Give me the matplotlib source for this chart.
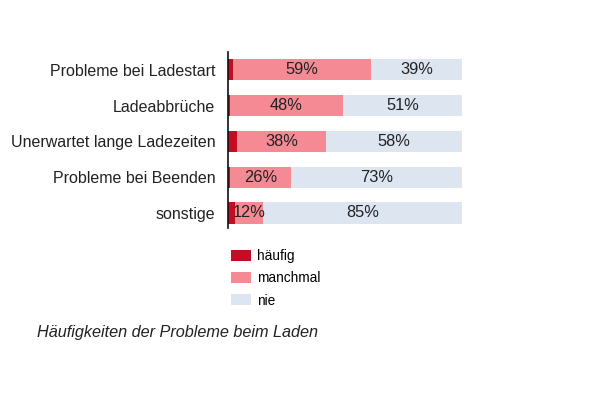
import matplotlib
matplotlib.use("Agg")
import matplotlib.pyplot as plt
from matplotlib.patches import Patch

categories = ["Probleme bei Ladestart", "Ladeabbrüche", "Unerwartet lange Ladezeiten",
              "Probleme bei Beenden", "sonstige"]
haeufig = [2, 1, 4, 1, 3]
manchmal = [59, 48, 38, 26, 12]
nie = [39, 51, 58, 73, 85]
series_names = ["häufig", "manchmal", "nie"]
caption = "Häufigkeiten der Probleme beim Laden"

colors = ["#c40d25", "#f58a95", "#dde5f1"]

plt.rcParams['font.family'] = ['Liberation Sans', 'DejaVu Sans']
fig = plt.figure(figsize=(6.0, 3.99), dpi=100)
ax = fig.add_axes([228/600, 1-228/399, (462-228)/600, (228-52)/399])

y = list(range(len(categories)))
left = [0]*len(categories)
for vals, col in zip([haeufig, manchmal, nie], colors):
    ax.barh(y, vals, left=left, height=0.59, color=col, edgecolor='none')
    left = [l + v for l, v in zip(left, vals)]

for i in y:
    ax.text(haeufig[i] + manchmal[i]/2, i, f"{manchmal[i]}%", ha='center', va='center',
            fontsize=11.8, color='#222222')
    ax.text(haeufig[i] + manchmal[i] + nie[i]/2, i, f"{nie[i]}%", ha='center', va='center',
            fontsize=11.8, color='#222222')

ax.set_xlim(0, 100)
ax.set_ylim(4.42, -0.5)
ax.set_yticks(y)
ax.set_yticklabels(categories, fontsize=11.5, color='#222222')
ax.tick_params(axis='y', length=0, pad=9)
ax.set_xticks([])
for s in ['top', 'right', 'bottom']:
    ax.spines[s].set_visible(False)
ax.spines['left'].set_color('#111111')
ax.spines['left'].set_linewidth(1.2)

handles = [Patch(facecolor=c, edgecolor='none') for c in colors]
fig.legend(handles, series_names, loc='upper left', bbox_to_anchor=(219/600, 1-237/399),
           frameon=False, fontsize=9.8, handlelength=1.47, handleheight=0.85,
           labelspacing=0.6, handletextpad=0.45)

fig.text(37/600, 1-333/399, caption, fontsize=11.7, style='italic', va='center', ha='left',
         color='#222222')

fig.savefig("out.png", dpi=100)
